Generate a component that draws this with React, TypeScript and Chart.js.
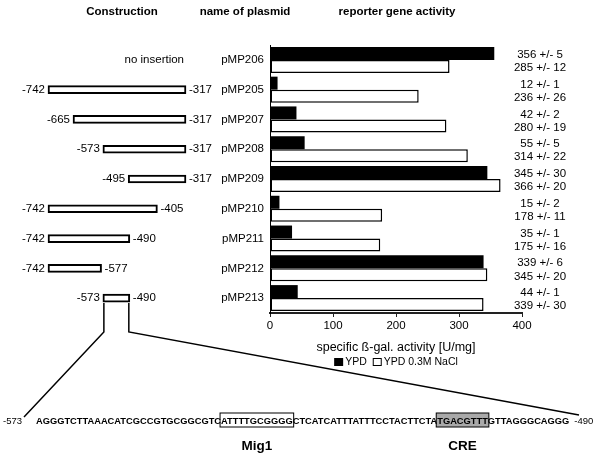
import React, { useEffect, useRef } from "react";
import { Chart, registerables } from "chart.js";

Chart.register(...registerables);

// ---------- data ----------
const plasmids = ["pMP206", "pMP205", "pMP207", "pMP208", "pMP209", "pMP210", "pMP211", "pMP212", "pMP213"];
const ypd = [356, 12, 42, 55, 345, 15, 35, 339, 44];
const ypdErr = [5, 1, 2, 5, 30, 2, 1, 6, 1];
const nacl = [285, 236, 280, 314, 366, 178, 175, 345, 339];
const naclErr = [12, 26, 19, 22, 20, 11, 16, 20, 30];
const constructStart: (number | null)[] = [null, -742, -665, -573, -495, -742, -742, -742, -573];
const constructEnd: (number | null)[] = [null, -317, -317, -317, -317, -405, -490, -577, -490];
const xTicks = [0, 100, 200, 300, 400];
const seqParts = [
  { text: "AGGGTCTTAAACATCGCCGTGCGGCGTC", box: "" },
  { text: "ATTTTGCGGGG", box: "Mig1" },
  { text: "CTCATCATTTATTTCCTACTTCTA", box: "" },
  { text: "TGACGTTT", box: "CRE" },
  { text: "GTTAGGGCAGGG", box: "" },
];
const seqStartLabel = "-573";
const seqEndLabel = "-490";

const FONT = "'Liberation Sans', Arial, sans-serif";
const SEQ_Y = 420;

const constructPlugin = {
  id: "constructs",
  afterDraw(chart: any) {
    const ctx = chart.ctx;
    const xs = chart.scales.x;
    const ys = chart.scales.y;
    ctx.save();
    ctx.fillStyle = "#000";
    ctx.textBaseline = "middle";

    // headers
    ctx.font = `bold 11.5px ${FONT}`;
    ctx.textAlign = "center";
    ctx.fillText("Construction", 122, 12);
    ctx.fillText("name of plasmid", 245, 12);
    ctx.fillText("reporter gene activity", 397, 12);

    // construct labels
    ctx.font = `11.5px ${FONT}`;
    plasmids.forEach((_, i) => {
      const y = ys.getPixelForValue(i);
      const s = constructStart[i];
      const e = constructEnd[i];
      if (s == null || e == null) {
        ctx.textAlign = "right";
        ctx.fillText("no insertion", xs.getPixelForValue(-317) - 2, y);
        return;
      }
      ctx.textAlign = "right";
      ctx.fillText(String(s), xs.getPixelForValue(s) - 3, y);
      ctx.textAlign = "left";
      ctx.fillText(String(e), xs.getPixelForValue(e) + 3, y);
    });

    // zoom lines from the last construct
    const last = plasmids.length - 1;
    const ly = ys.getPixelForValue(last) + 5;
    const x1 = xs.getPixelForValue(constructStart[last] as number) + 1;
    const x2 = xs.getPixelForValue(constructEnd[last] as number) - 1;
    ctx.strokeStyle = "#000";
    ctx.lineWidth = 1.5;
    ctx.beginPath();
    ctx.moveTo(x1, ly);
    ctx.lineTo(x1, 332);
    ctx.lineTo(24, SEQ_Y - 3);
    ctx.moveTo(x2, ly);
    ctx.lineTo(x2, 332);
    ctx.lineTo(579, SEQ_Y - 5);
    ctx.stroke();

    // sequence
    ctx.font = `9.5px ${FONT}`;
    ctx.textAlign = "right";
    ctx.fillText(seqStartLabel, 22, SEQ_Y + 1);
    ctx.font = `bold 9.3px ${FONT}`;
    ctx.textAlign = "left";
    let x = 36;
    const boxes: { x: number; w: number; label: string }[] = [];
    seqParts.forEach((p) => {
      const w = ctx.measureText(p.text).width;
      if (p.box) boxes.push({ x, w, label: p.box });
      x += w;
    });
    const seqEnd = x;
    boxes.forEach((b) => {
      if (b.label === "CRE") {
        ctx.fillStyle = "#a9a9a9";
        ctx.fillRect(b.x - 1, SEQ_Y - 7, b.w + 2, 14);
      }
      ctx.strokeStyle = "#000";
      ctx.lineWidth = 1;
      ctx.strokeRect(b.x - 1, SEQ_Y - 7, b.w + 2, 14);
    });
    ctx.fillStyle = "#000";
    x = 36;
    seqParts.forEach((p) => {
      ctx.fillText(p.text, x, SEQ_Y + 1);
      x += ctx.measureText(p.text).width;
    });
    ctx.font = `9.5px ${FONT}`;
    ctx.fillText(seqEndLabel, seqEnd + 5, SEQ_Y + 1);

    ctx.font = `bold 13.5px ${FONT}`;
    ctx.textAlign = "center";
    boxes.forEach((b) => {
      ctx.fillText(b.label, b.x + b.w / 2, SEQ_Y + 26);
    });
    ctx.restore();
  },
};

const activityPlugin = {
  id: "activity",
  afterDraw(chart: any) {
    const ctx = chart.ctx;
    ctx.save();
    ctx.fillStyle = "#000";
    ctx.textBaseline = "middle";
    ctx.textAlign = "center";
    ctx.font = `11.5px ${FONT}`;
    const vals = [ypd, nacl];
    const errs = [ypdErr, naclErr];
    [0, 1].forEach((d) => {
      const meta = chart.getDatasetMeta(d);
      meta.data.forEach((el: any, i: number) => {
        ctx.fillText(`${vals[d][i]} +/- ${errs[d][i]}`, 540, el.y + 1.5);
      });
    });

    const ca = chart.chartArea;
    const cx = (ca.left + ca.right) / 2;
    ctx.font = `12.5px ${FONT}`;
    ctx.fillText("specific \u00DF-gal. activity [U/mg]", cx, 348);

    // legend
    ctx.font = `10.5px ${FONT}`;
    const ds = chart.data.datasets;
    const w0 = ctx.measureText(ds[0].label).width;
    const w1 = ctx.measureText(ds[1].label).width;
    const total = 9 + 2 + w0 + 6 + 9 + 2 + w1;
    let lx = cx - total / 2;
    const ly = 362;
    ctx.textAlign = "left";
    ctx.fillStyle = ds[0].backgroundColor;
    ctx.fillRect(lx, ly - 4, 9, 8);
    ctx.fillStyle = "#000";
    ctx.fillText(ds[0].label, lx + 11, ly + 0.5);
    lx += 11 + w0 + 6;
    ctx.fillStyle = ds[1].backgroundColor;
    ctx.fillRect(lx, ly - 4, 9, 8);
    ctx.strokeStyle = "#000";
    ctx.lineWidth = 1;
    ctx.strokeRect(lx + 0.5, ly - 3.5, 8, 7);
    ctx.fillStyle = "#000";
    ctx.fillText(ds[1].label, lx + 11, ly + 0.5);
    ctx.restore();
  },
};

export default function App() {
  const refA = useRef<HTMLCanvasElement | null>(null);
  const refB = useRef<HTMLCanvasElement | null>(null);

  useEffect(() => {
    if (!refA.current || !refB.current) return;

    const chartB = new Chart(refB.current, {
      type: "bar",
      data: {
        labels: plasmids,
        datasets: [
          {
            label: "construct",
            data: plasmids.map((_, i) =>
              constructStart[i] == null ? null : [constructStart[i], constructEnd[i]]
            ) as any,
            backgroundColor: "#fff",
            borderColor: "#000",
            borderWidth: 2,
            borderSkipped: false,
            barThickness: 8,
            clip: false as any,
          },
        ],
      },
      options: {
        indexAxis: "y",
        animation: false,
        responsive: false,
        maintainAspectRatio: false,
        events: [],
        layout: { padding: { left: 48, right: 420, top: 45, bottom: 150 } },
        plugins: { legend: { display: false }, tooltip: { enabled: false } },
        scales: {
          x: { display: false, min: -742, max: -317 },
          y: { display: false },
        },
      },
      plugins: [constructPlugin],
    } as any);

    const chartA = new Chart(refA.current, {
      type: "bar",
      data: {
        labels: plasmids,
        datasets: [
          {
            label: "YPD",
            data: ypd,
            backgroundColor: "#000",
            borderWidth: 0,
            categoryPercentage: 0.874,
            barPercentage: 1,
          },
          {
            label: "YPD 0.3M NaCl",
            data: nacl,
            backgroundColor: "#fff",
            borderColor: "#000",
            borderWidth: 1.5,
            borderSkipped: false,
            categoryPercentage: 0.874,
            barPercentage: 1,
          },
        ],
      },
      options: {
        indexAxis: "y",
        animation: false,
        responsive: false,
        maintainAspectRatio: false,
        events: [],
        layout: { padding: { left: 0, right: 84, top: 45, bottom: 0 } },
        plugins: { legend: { display: false }, tooltip: { enabled: false } },
        scales: {
          x: {
            min: 0,
            max: 400,
            afterFit: (s: any) => {
              s.height = 150;
            },
            afterBuildTicks: (s: any) => {
              s.ticks = xTicks.map((v) => ({ value: v }));
            },
            ticks: {
              color: "#000",
              font: { family: FONT, size: 11.5 },
              padding: 2,
              maxRotation: 0,
            },
            grid: { display: true, drawOnChartArea: false, drawTicks: true, tickLength: 4, color: "#222", lineWidth: 1 },
            border: { display: true, color: "#222", width: 2 },
          },
          y: {
            afterFit: (s: any) => {
              s.width = 270;
            },
            ticks: {
              color: "#000",
              font: { family: FONT, size: 11.5 },
              padding: 6,
            },
            grid: { display: true, drawOnChartArea: false, drawTicks: false },
            border: { display: true, color: "#000", width: 1 },
          },
        },
      },
      plugins: [activityPlugin],
    } as any);

    return () => {
      chartA.destroy();
      chartB.destroy();
    };
  }, []);

  return (
    <div style={{ position: "absolute", left: 0, top: 0, width: 606, height: 463, background: "#fff" }}>
      <canvas ref={refB} width={606} height={463} style={{ position: "absolute", left: 0, top: 0 }} />
      <canvas ref={refA} width={606} height={463} style={{ position: "absolute", left: 0, top: 0 }} />
    </div>
  );
}
